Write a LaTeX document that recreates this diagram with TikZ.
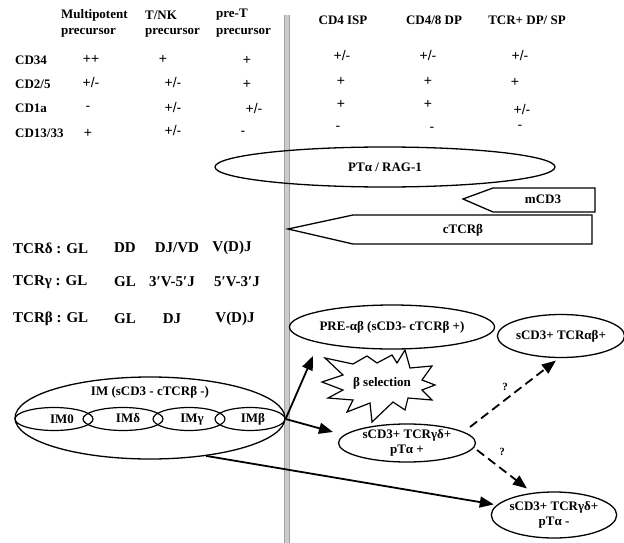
\documentclass[tikz,border=0pt]{standalone}
\usepackage{fontspec}
\setmainfont{Liberation Serif}
\newfontfamily\sansf{Liberation Sans}
\usetikzlibrary{arrows.meta,shapes.geometric}
\begin{document}
\begin{tikzpicture}[x=1pt,y=-1pt,
 lbl/.style={font=\bfseries\fontsize{13}{14}\selectfont, inner sep=0pt},
 big/.style={font=\bfseries\fontsize{15}{16}\selectfont, inner sep=0pt},
 val/.style={font=\sansf\fontsize{14}{15}\selectfont, inner sep=0pt},
 oval/.style={ellipse, draw, line width=1.3pt, inner sep=0pt, align=center, font=\bfseries\fontsize{13}{15}\selectfont},
 soval/.style={ellipse, draw, line width=1.2pt, inner sep=0pt, minimum height=23pt},
 arr/.style={line width=1.8pt, -{Triangle[length=14pt,width=11pt]}},
 darr/.style={arr, dash pattern=on 9pt off 5pt},
 tag/.style={line width=1.3pt, draw},
]
\useasboundingbox (0,0) rectangle (624,543);
% vertical bar
\fill[gray!40] (284,15) rectangle (289,543);
\draw[gray!75, line width=0.5pt] (284,15) -- (284,543) (289,15) -- (289,543);

% headers
\node[lbl, anchor=west] (h1a) at (61,15) {Multipotent};
\node[lbl, anchor=west] (h1b) at (61,33) {precursor};
\node[lbl, anchor=west] (h2a) at (145,15) {T/NK};
\node[lbl, anchor=west] (h2b) at (145,33) {precursor};
\node[lbl, anchor=west] (h3a) at (216,15) {pre-T};
\node[lbl, anchor=west] (h3b) at (216,33) {precursor};
\node[lbl] (h4) at (343,20) {CD4 ISP};
\node[lbl] (h5) at (434,20) {CD4/8 DP};
\node[lbl] (h6) at (527,20) {TCR+ DP/ SP};

% row labels
\node[lbl, anchor=west] (r1) at (15,60) {CD34};
\node[lbl, anchor=west] (r2) at (15,84) {CD2/5};
\node[lbl, anchor=west] (r3) at (15,108) {CD1a};
\node[lbl, anchor=west] (r4) at (15,133) {CD13/33};

% values left
\node[val] (v11) at (91,59) {++};
\node[val] (v12) at (163,59) {+};
\node[val] (v13) at (247,60) {+};
\node[val] (v21) at (91,82) {+/-};
\node[val] (v22) at (173,82) {+/-};
\node[val] (v23) at (247,84) {+};
\node[val] (v31) at (88,108) {-};
\node[val] (v32) at (173,107) {+/-};
\node[val] (v33) at (254,108) {+/-};
\node[val] (v41) at (88,133) {+};
\node[val] (v42) at (173,130) {+/-};
\node[val] (v43) at (243,133) {-};
% values right
\node[val] (w11) at (342,55) {+/-};
\node[val] (w12) at (428,55) {+/-};
\node[val] (w13) at (520,55) {+/-};
\node[val] (w21) at (341,81) {+};
\node[val] (w22) at (428,81) {+};
\node[val] (w23) at (515,82) {+};
\node[val] (w31) at (341,104) {+};
\node[val] (w32) at (428,104) {+};
\node[val] (w33) at (522,109) {+/-};
\node[val] (w41) at (338,128) {-};
\node[val] (w42) at (432,129) {-};
\node[val] (w43) at (520,127) {-};

% PTa / RAG-1
\node[oval, minimum width=340pt, minimum height=40pt] (pta) at (385,167) {PTα / RAG-1};
% mCD3 tag
\draw[tag] (463,199) -- (493,188) -- (595,188) -- (595,212) -- (493,212) -- cycle;
\node[lbl] (mcd3) at (543,199) {mCD3};
% cTCRb tag
\draw[tag] (288,229) -- (353,215) -- (592,215) -- (592,244) -- (353,244) -- cycle;
\node[lbl] (ctcr) at (463,230) {cTCRβ};

% TCR rows
\node[big, anchor=west] (d0) at (13,248) {TCRδ : GL};
\node[big] (d1) at (125,248) {DD};
\node[big] (d2) at (177,248) {DJ/VD};
\node[big] (d3) at (232,248) {V(D)J};
\node[big, anchor=west] (g0) at (13,282) {TCRγ : GL};
\node[big] (g1) at (125,282) {GL};
\node[big] (g2) at (172,282) {3′V-5′J};
\node[big] (g3) at (237,282) {5′V-3′J};
\node[big, anchor=west] (b0) at (13,319) {TCRβ : GL};
\node[big] (b1) at (125,319) {GL};
\node[big] (b2) at (172,319) {DJ};
\node[big] (b3) at (235,319) {V(D)J};

% IM ellipses
\node[oval, minimum width=270pt, minimum height=82pt] (im) at (150,418) {};
\node[lbl] (imt) at (150,392) {IM (sCD3 - cTCRβ -)};
\node[soval, minimum width=78pt] (im0) at (54,419) {};
\node[soval, minimum width=80pt] (imd) at (123,419) {};
\node[soval, minimum width=72pt] (img) at (189,419) {};
\node[soval, minimum width=70pt] (imb) at (250,419) {};
\node[lbl] (im0t) at (62,419) {IM0};
\node[lbl] (imdt) at (128,418) {IMδ};
\node[lbl] (imgt) at (192,420) {IMγ};
\node[lbl] (imbt) at (253,419) {IMβ};

% right side ovals
\node[oval, minimum width=190pt, minimum height=44pt] (pre) at (392,327) {PRE-αβ (sCD3- cTCRβ +)};
\node[oval, minimum width=122pt, minimum height=43pt] (ab) at (561,336) {sCD3+ TCRαβ+};
\node[oval, minimum width=137pt, minimum height=38pt] (gdp) at (407,443) {sCD3+ TCRγδ+\\pTα +};
\node[oval, minimum width=118pt, minimum height=46pt] (gdm) at (554,515) {sCD3+ TCRγδ+\\pTα -};

% beta selection burst
\draw[line width=1.2pt, fill=white, line join=miter]
 (325,358) -- (353,364) -- (367,356) -- (377,363) -- (392,355) -- (397,363) -- (405,350)
 -- (410,368) -- (432,366) -- (422,380) -- (435,385) -- (422,390) -- (432,400) -- (408,398)
 -- (405,410) -- (393,402) -- (372,422) -- (370,403) -- (347,412) -- (353,400) -- (328,398)
 -- (343,390) -- (322,382) -- (343,375) -- cycle;
\node[lbl] (sel) at (382,383) {β selection};

% arrows
\coordinate (t1) at (313,356);
\coordinate (t2) at (333,432);
\coordinate (s4) at (470,427);
\coordinate (s5) at (477,450);
\draw[arr] (imb.east) -- (t1);
\draw[arr] (imb.east) -- (t2);
\draw[arr, shorten >=3pt] (im.326) -- (gdm.170);
\draw[darr, shorten >=4pt] (s4) -- (ab.265);
\draw[darr, shorten >=7pt] (s5) -- (gdm.134);
\node[lbl, font=\bfseries\fontsize{11}{12}\selectfont] (q1) at (505,387) {?};
\node[lbl, font=\bfseries\fontsize{11}{12}\selectfont] (q2) at (502,452) {?};
\end{tikzpicture}
\end{document}
